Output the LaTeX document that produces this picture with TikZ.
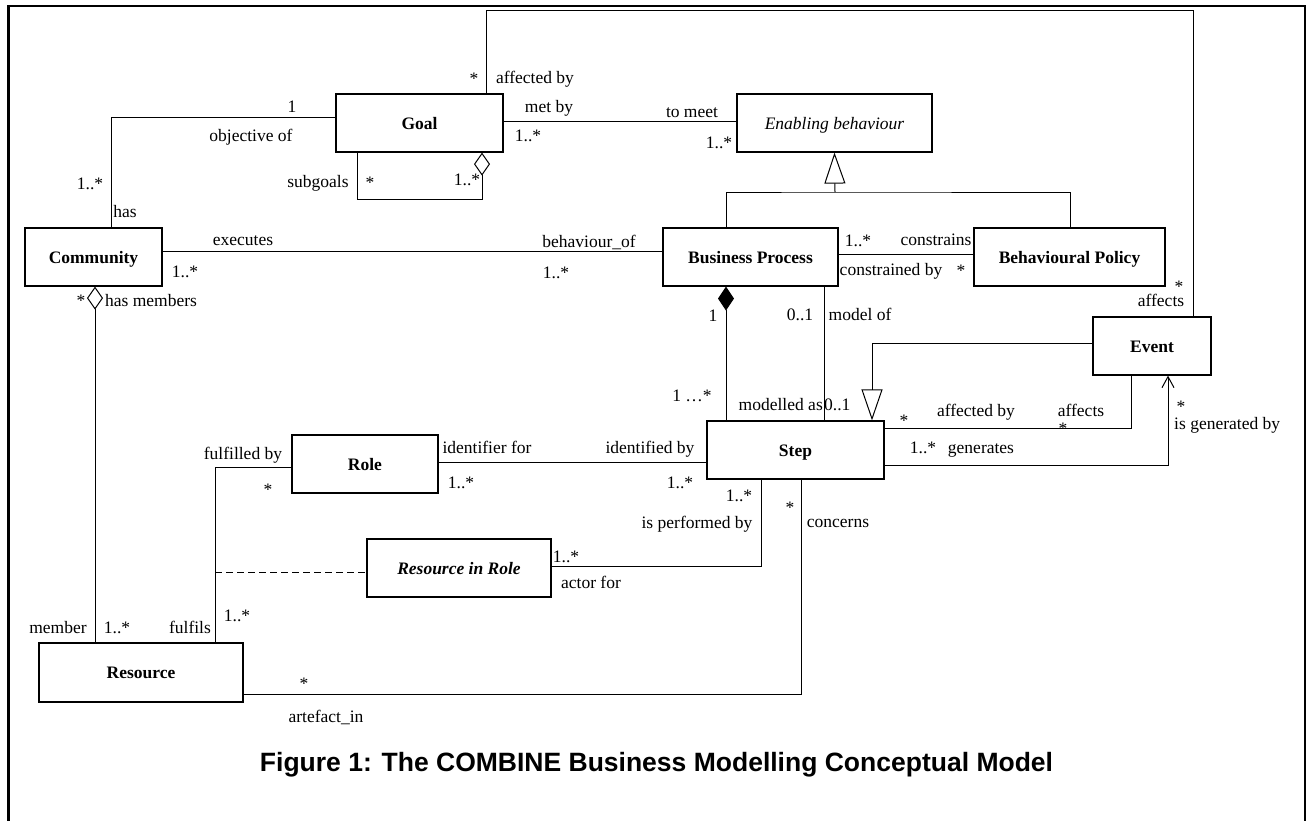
\documentclass[tikz,border=0pt]{standalone}
\usepackage{fontspec}
\setmainfont{Liberation Serif}
\newfontfamily\captionfont{Liberation Sans}
\usetikzlibrary{arrows.meta}

\begin{document}
\begin{tikzpicture}[x=1pt,y=-1pt,
  cls/.style={draw, line width=1.2pt, inner sep=0pt, minimum height=58pt,
    text height=12pt, text depth=0pt,
    font=\fontsize{17.5}{20}\selectfont\bfseries},
  abstractcls/.style={cls, font=\fontsize{17.5}{20}\selectfont\itshape},
  assoccls/.style={cls, font=\fontsize{17.5}{20}\selectfont\bfseries\itshape},
  lbl/.style={inner sep=0pt, anchor=base, font=\fontsize{17.5}{20}\selectfont},
  link/.style={line width=1pt},
  aggr/.style={{Diamond[open,length=23pt,width=16pt]}-},
  compo/.style={{Diamond[length=24pt,width=16pt]}-},
  gen/.style={-{Triangle[open,length=31pt,width=21pt]}},
  nav/.style={-{Straight Barb[length=11pt,width=12pt]}},
]
\useasboundingbox (0,0) rectangle (1307,820);

% outer frame
\begin{scope}
  \clip (0,0) rectangle (1307,820);
  \draw[line width=2.5pt] (8.5,840) -- (8.5,6) -- (1305,6) -- (1305,840);
\end{scope}

% classes
\node[cls, minimum width=167pt] (goal) at (419.5,123) {Goal};
\node[abstractcls, minimum width=195pt] (enabling) at (834.5,123) {Enabling behaviour};
\node[cls, minimum width=137pt] (community) at (93.5,257) {Community};
\node[cls, minimum width=175pt] (bp) at (750.5,257) {Business Process};
\node[cls, minimum width=191pt] (policy) at (1069.5,257) {Behavioural Policy};
\node[cls, minimum width=118pt] (event) at (1152,346) {Event};
\node[cls, minimum width=177pt] (step) at (795.5,450) {Step};
\node[cls, minimum width=146pt] (role) at (365,464) {Role};
\node[assoccls, minimum width=184pt] (rir) at (459,568) {Resource in Role};
\node[cls, minimum width=204pt, minimum height=59pt] (resource) at (141,672.5) {Resource};

% junction points on connectors
\coordinate (genjoin) at (835,192);
\coordinate (fulfiljoin) at (215,572);

% associations
\draw[link] (goal.west |- 0,117) -| (community.north -| 111,0);
\draw[link] (goal.east |- 0,121) -- (enabling.west |- 0,121);
\draw[link, -{Diamond[open,length=23pt,width=16pt]}] (goal.south -| 357,0) |- (482,199) -- (goal.south -| 482,0);
\draw[link] (goal.north -| 486,0) |- (1193,10) -- (event.north -| 1193,0);
\draw[link] (community.east |- 0,251) -- (bp.west |- 0,251);
\draw[link, aggr] (community.south -| 95,0) -- (resource.north -| 95,0);
\draw[link] (bp.north -| 726,0) |- (genjoin) -| (policy.north -| 1070,0);
\draw[link, gen] (genjoin) -- (enabling.south);
\draw[link] (bp.east |- 0,254) -- (policy.west |- 0,254);
\draw[link, compo] (bp.south -| 726,0) -- (step.north -| 726,0);
\draw[link] (bp.south -| 824,0) -- (step.north -| 824,0);
\draw[link, gen] (event.west |- 0,343) -| (step.north -| 872,0);
\draw[link] (step.east |- 0,428) -| (event.south -| 1131,0);
\draw[link, nav] (step.east |- 0,465) -| (event.south -| 1168,0);
\draw[link] (role.east |- 0,462) -- (step.west |- 0,462);
\draw[link] (resource.north -| 215,0) |- (role.west |- 0,467);
\draw[link, dash pattern=on 7pt off 4pt] (fulfiljoin) -- (rir.west |- 0,572);
\draw[link] (rir.east |- 0,566) -| (step.south -| 761,0);
\draw[link] (resource.east |- 0,694) -| (step.south -| 801,0);

% role names and multiplicities
\node[lbl] (m01) at (292,112) {1};
\node[lbl] (r01) at (251,141) {objective of};
\node[lbl] (m02) at (90,189) {1..*};
\node[lbl] (r02) at (125,217) {has};
\node[lbl] (r03) at (318,187) {subgoals};
\node[lbl] (m03) at (370,188) {*};
\node[lbl] (m04) at (467,185) {1..*};
\node[lbl] (m05) at (474,84) {*};
\node[lbl] (r04) at (535,83) {affected by};
\node[lbl] (r05) at (549,112) {met by};
\node[lbl] (m06) at (528,141) {1..*};
\node[lbl] (r06) at (692,117) {to meet};
\node[lbl] (m07) at (719,148) {1..*};
\node[lbl] (r07) at (243,245) {executes};
\node[lbl] (m08) at (185,277) {1..*};
\node[lbl] (r08) at (589,247) {behaviour\_of};
\node[lbl] (m09) at (556,278) {1..*};
\node[lbl] (m10) at (858,246) {1..*};
\node[lbl] (r09) at (936,245) {constrains};
\node[lbl] (r10) at (891,275) {constrained by};
\node[lbl] (m11) at (961,276) {*};
\node[lbl] (m12) at (1179,292) {*};
\node[lbl] (r11) at (1161,306) {affects};
\node[lbl] (m13) at (81,306) {*};
\node[lbl] (r12) at (151,306) {has members};
\node[lbl] (m14) at (713,321) {1};
\node[lbl] (m15) at (800,320) {0..1};
\node[lbl] (r13) at (860,320) {model of};
\node[lbl] (m16) at (692,401) {1 …*};
\node[lbl, anchor=base east] (r14) at (823,410) {modelled as};
\node[lbl, anchor=base west] (m17) at (824,410) {0..1};
\node[lbl] (m18) at (904,426) {*};
\node[lbl] (r15) at (976,416) {affected by};
\node[lbl] (r16) at (1081,416) {affects};
\node[lbl] (m19) at (1063,434) {*};
\node[lbl] (m20) at (923,453) {1..*};
\node[lbl] (r17) at (981,453) {generates};
\node[lbl] (m21) at (1181,412) {*};
\node[lbl, anchor=base west] (r18) at (1174,429) {is generated by};
\node[lbl] (r19) at (487,453) {identifier for};
\node[lbl] (r20) at (650,453) {identified by};
\node[lbl] (m22) at (461,488) {1..*};
\node[lbl] (m23) at (680,488) {1..*};
\node[lbl] (m24) at (739,501) {1..*};
\node[lbl] (r21) at (697,528) {is performed by};
\node[lbl] (m25) at (790,513) {*};
\node[lbl] (r22) at (838,527) {concerns};
\node[lbl] (r23) at (243,459) {fulfilled by};
\node[lbl] (m26) at (268,495) {*};
\node[lbl] (m27) at (566,562) {1..*};
\node[lbl] (r24) at (591,588) {actor for};
\node[lbl] (r25) at (58,633) {member};
\node[lbl] (m28) at (117,633) {1..*};
\node[lbl] (r26) at (190,633) {fulfils};
\node[lbl] (m29) at (237,621) {1..*};
\node[lbl] (m30) at (304,689) {*};
\node[lbl] (r27) at (326,722) {artefact\_in};

% caption
\node[inner sep=0pt, anchor=base, font=\captionfont\bfseries\fontsize{26.5}{30}\selectfont] (caption) at (656.5,771)
  {Figure 1: The COMBINE Business Modelling Conceptual Model};
\end{tikzpicture}
\end{document}
